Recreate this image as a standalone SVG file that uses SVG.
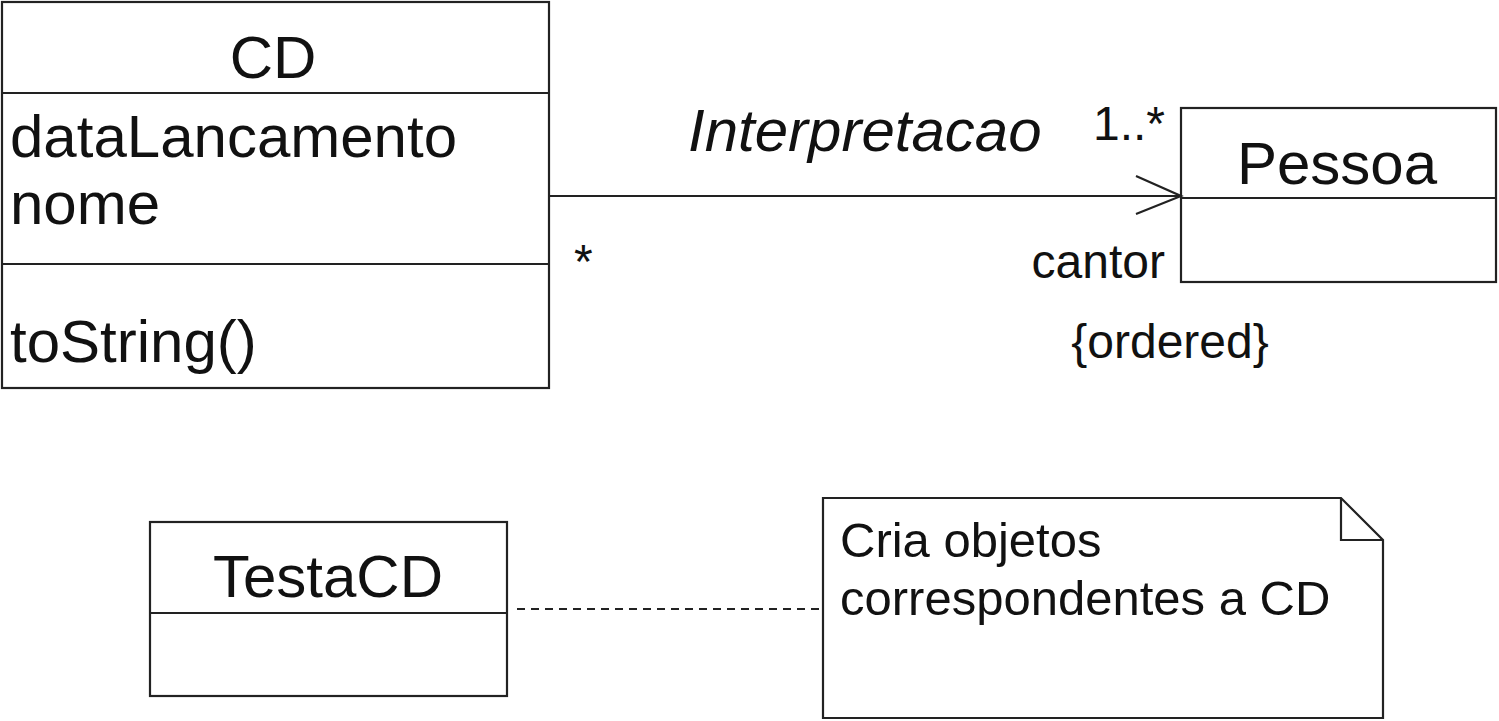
<svg xmlns="http://www.w3.org/2000/svg" width="1499" height="721" viewBox="0 0 1499 721">
<style>
.box{fill:#fff;stroke:#222;stroke-width:2.2}
.ln{fill:none;stroke:#222;stroke-width:2.2}
text{font-family:"Liberation Sans",Arial,sans-serif;fill:#111}
.big{font-size:60px}
.sm{font-size:48px}
.note{font-size:49px}
</style>
<g id="CD">
<rect class="box" x="2" y="2" width="547" height="386"/>
<line class="ln" x1="2" y1="93" x2="549" y2="93"/>
<line class="ln" x1="2" y1="264" x2="549" y2="264"/>
<text class="big" x="273" y="78" text-anchor="middle">CD</text>
<text class="big" x="10" y="157">dataLancamento</text>
<text class="big" x="10" y="224">nome</text>
<text class="big" x="10" y="362">toString()</text>
</g>
<g id="Pessoa">
<rect class="box" x="1181" y="108" width="315" height="174"/>
<line class="ln" x1="1181" y1="198" x2="1496" y2="198"/>
<text class="big" x="1337" y="184" text-anchor="middle">Pessoa</text>
</g>
<g id="TestaCD">
<rect class="box" x="150" y="522" width="357" height="174"/>
<line class="ln" x1="150" y1="613" x2="507" y2="613"/>
<text class="big" x="328" y="597" text-anchor="middle">TestaCD</text>
</g>
<g id="Note">
<path class="box" d="M823,498 H1341 L1383,540 V718 H823 Z"/>
<path class="ln" d="M1341,498 V540 H1383"/>
<text class="note" x="840" y="557">Cria objetos</text>
<text class="note" x="840" y="615">correspondentes a CD</text>
</g>
<g id="connectors">
<line class="ln" x1="549" y1="196" x2="1181" y2="196"/>
<path class="ln" d="M1136,176 L1181,196 L1136,214"/>
<line class="ln" x1="517" y1="609" x2="823" y2="609" stroke-dasharray="8 6"/>
<text x="688" y="151" style="font-size:60px;font-style:italic">Interpretacao</text>
<text class="sm" x="1093" y="140">1..*</text>
<text class="sm" x="574" y="278">*</text>
<text class="sm" x="1165" y="278" text-anchor="end">cantor</text>
<text class="sm" x="1170" y="358" text-anchor="middle">{ordered}</text>
</g>
</svg>
